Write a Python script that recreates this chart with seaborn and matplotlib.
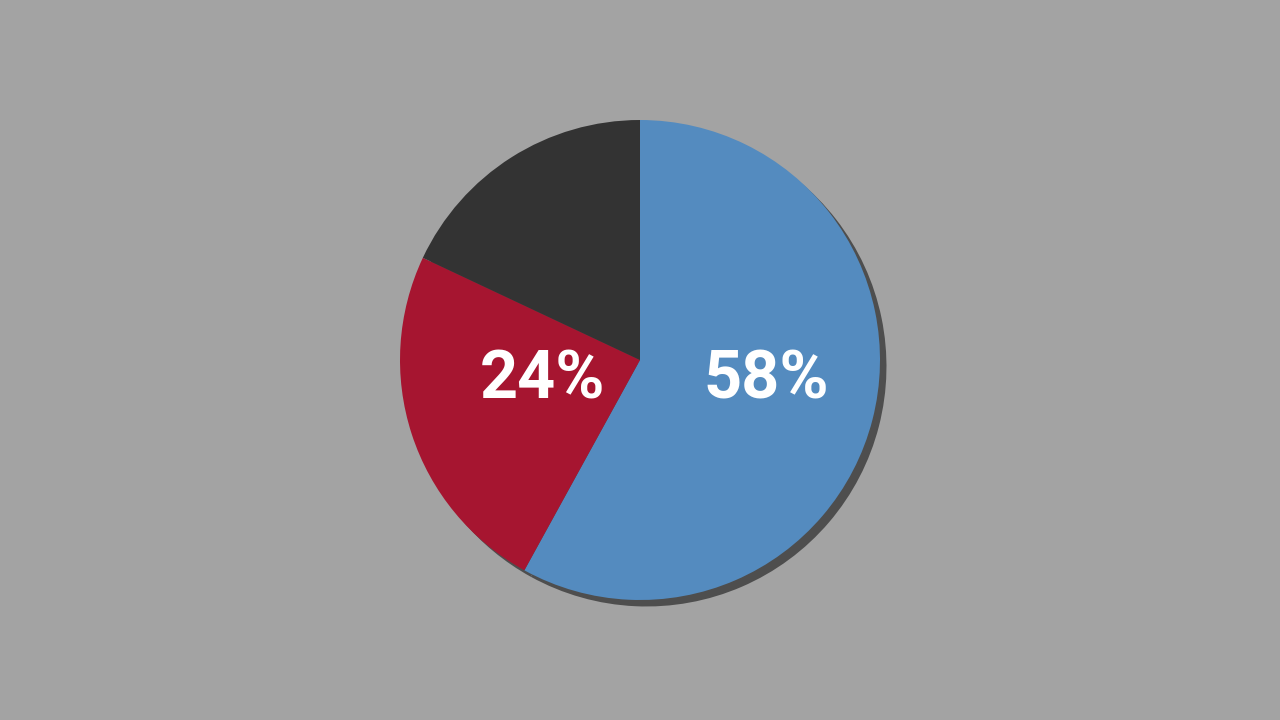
import matplotlib.pyplot as plt
import seaborn as sns

# Pie shares (percent), clockwise from 12 o'clock
segments = ['Blue', 'Red', 'Dark']
shares = [58, 24, 18]
labels = ['58%', '24%', '']

colors = ['#548bbf', '#a61530', '#333333']
bg = '#a3a3a3'

sns.set_theme(style='white')
plt.rcParams['font.family'] = ['Roboto', 'DejaVu Sans']

fig = plt.figure(figsize=(12.8, 7.2), dpi=100, facecolor=bg)
ax = fig.add_axes([0, 0, 1, 1])
ax.set_facecolor(bg)

# drop shadow: same pie in flat dark grey, nudged down-right
ax.pie(shares, colors=['#4e4e4e'] * len(shares), startangle=90, counterclock=False,
       center=(0.027, -0.027), radius=1.0, wedgeprops=dict(linewidth=0))

wedges, _ = ax.pie(shares, colors=colors, startangle=90, counterclock=False,
                   radius=1.0, wedgeprops=dict(linewidth=0))

# percentage labels
label_pos = [(0.525, -0.085), (-0.408, -0.085)]
for txt, (x, y) in zip(labels, label_pos):
    ax.text(x, y, txt, ha='center', va='center', color='white',
            fontsize=48, fontweight='bold')

ax.set_xlim(-640 / 240, 640 / 240)
ax.set_ylim(-1.5, 1.5)
ax.set_aspect('equal')
ax.axis('off')

fig.savefig('out.png', dpi=100, facecolor=bg)
